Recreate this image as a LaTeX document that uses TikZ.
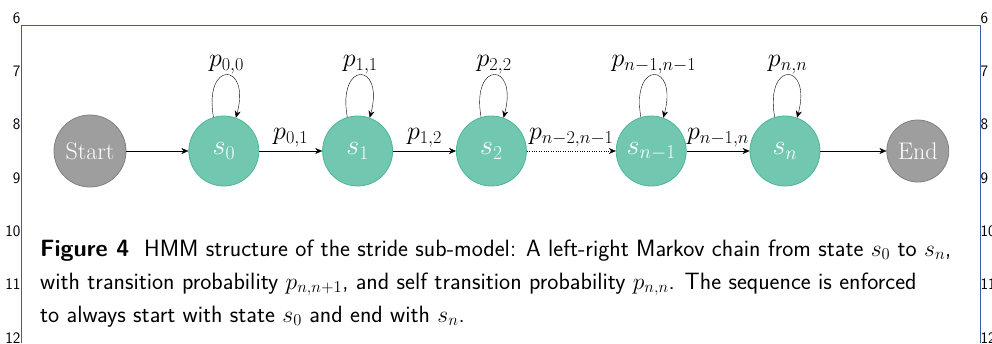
\RequirePackage{fix-cm}
\documentclass[tikz,border=0pt]{standalone}
\usepackage{amsmath,amssymb}
\usepackage{tikz}
\usetikzlibrary{arrows.meta,positioning}
\definecolor{stategreen}{HTML}{72C7B1}
\definecolor{stateborder}{HTML}{4DB596}
\definecolor{termgray}{HTML}{9E9E9E}
\definecolor{termborder}{HTML}{808080}
\definecolor{frameblue}{HTML}{3B5E9C}

\begin{document}
\begin{tikzpicture}[x=1pt,y=-1pt,
  node distance=63pt,
  state/.style={circle,draw=stateborder,fill=stategreen,text=white,line width=0.8pt,
                minimum size=70pt,inner sep=0pt,font=\fontsize{28}{32}\selectfont},
  term/.style={circle,draw=termborder,fill=termgray,text=white,line width=0.8pt,
               inner sep=0pt,font=\fontsize{24}{27}\selectfont},
  lbl/.style={font=\fontsize{26}{30}\selectfont,inner sep=1pt},
  elbl/.style={lbl,above,inner sep=4pt},
  selfloop/.style={out=100,in=75,looseness=1,min distance=58pt},
  lineno/.style={font=\sffamily\fontsize{16}{18}\selectfont,inner sep=0.5pt},
  >={Stealth[length=7pt,width=6pt]}]
\useasboundingbox (0,0) rectangle (992,343);
\clip (0,0) rectangle (992,343);
% page margin and line numbers
\draw[frameblue,line width=1pt] (21,343) -- (21,25) -- (980,25) -- (980,343);
\foreach \n [count=\i from 0] in {6,...,12}{
  \node[lineno,anchor=east] (ll\n) at (21,18+53.3*\i) {\n};
  \node[lineno,anchor=west] (rl\n) at (980,18+53.3*\i) {\n};
}
% states
\node[term,minimum size=72pt] (start) at (90,151) {Start};
\node[state,right=62pt of start] (s0) {$s_0$};
\node[state,right=of s0]  (s1)  {$s_1$};
\node[state,right=of s1]  (s2)  {$s_2$};
\node[state,right=89pt of s2] (sn1) {$s_{n-1}$};
\node[state,right=of sn1] (sn)  {$s_n$};
\node[term,minimum size=62pt,right=66pt of sn] (end) {End};
% transitions
\draw[->] (start) -- (s0);
\draw[->] (s0) -- node[elbl] {$p_{0,1}$} (s1);
\draw[->] (s1) -- node[elbl] {$p_{1,2}$} (s2);
\draw[->,dotted] (s2) -- node[elbl] {$p_{n-2,n-1}$} (sn1);
\draw[->] (sn1) -- node[elbl] {$p_{n-1,n}$} (sn);
\draw[->] (sn) -- (end);
% self transitions
\draw[->] (s0.107)  to[selfloop] node[lbl,above] {$p_{0,0}$} (s0.70);
\draw[->] (s1.107)  to[selfloop] node[lbl,above] {$p_{1,1}$} (s1.70);
\draw[->] (s2.107)  to[selfloop] node[lbl,above] {$p_{2,2}$} (s2.70);
\draw[->] (sn1.107) to[selfloop] node[lbl,above] {$p_{n-1,n-1}$} (sn1.70);
\draw[->] (sn.107)  to[selfloop] node[lbl,above] {$p_{n,n}$} (sn.70);
% caption
\node[anchor=base west,align=left,inner sep=0pt,
      font=\sffamily\fontsize{23.6}{33}\selectfont] (caption) at (40,322)
  {\textbf{Figure 4}\ \ HMM structure of the stride sub-model: A left-right Markov chain from state $s_0$ to $s_n$,\\
   with transition probability $p_{n,n+1}$, and self transition probability $p_{n,n}$. The sequence is enforced\\
   to always start with state $s_0$ and end with $s_n$.};
\end{tikzpicture}
\end{document}
